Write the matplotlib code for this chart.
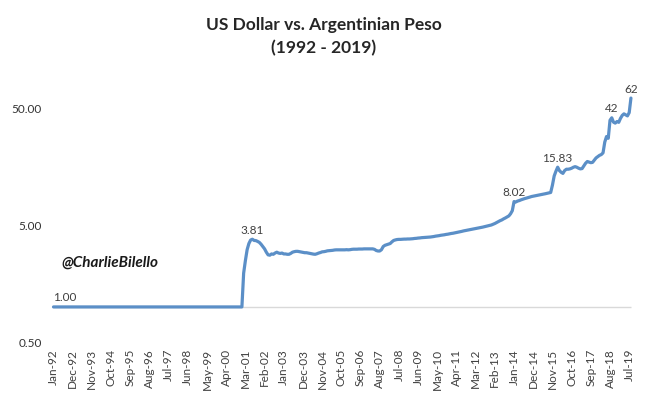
import matplotlib
matplotlib.use("Agg")
import matplotlib.pyplot as plt
import pandas as pd
import numpy as np

# ---------------- data (monthly, starting Jan-92) ----------------
start_month = "1992-01-01"
peg_values = [1.00] * 109  # Jan-92 .. Jan-01 (convertibility peg)
float_values = [
    1.95, 2.50, 3.10, 3.50, 3.75, 3.81, 3.72, 3.71, 3.65, 3.58,
    3.45, 3.30, 3.15, 2.95, 2.80, 2.78, 2.85, 2.83, 2.90, 2.95,
    2.90, 2.88, 2.90, 2.85, 2.85, 2.83, 2.83, 2.88, 2.95, 2.98,
    3.00, 3.00, 2.98, 2.96, 2.94, 2.92, 2.92, 2.90, 2.88, 2.86,
    2.84, 2.83, 2.86, 2.90, 2.93, 2.97, 2.98, 3.00, 3.03, 3.04,
    3.05, 3.06, 3.08, 3.09, 3.09, 3.09, 3.09, 3.09, 3.09, 3.10,
    3.09, 3.10, 3.12, 3.13, 3.13, 3.13, 3.14, 3.14, 3.14, 3.15,
    3.15, 3.15, 3.15, 3.15, 3.15, 3.12, 3.05, 3.02, 3.02, 3.10,
    3.30, 3.38, 3.42, 3.46, 3.50, 3.62, 3.72, 3.76, 3.79, 3.80,
    3.80, 3.81, 3.82, 3.82, 3.83, 3.83, 3.84, 3.85, 3.87, 3.88,
    3.90, 3.91, 3.93, 3.94, 3.95, 3.96, 3.97, 3.98, 4.00, 4.02,
    4.05, 4.07, 4.09, 4.12, 4.14, 4.16, 4.19, 4.21, 4.24, 4.27,
    4.29, 4.32, 4.35, 4.38, 4.41, 4.45, 4.49, 4.52, 4.55, 4.58,
    4.61, 4.64, 4.67, 4.70, 4.73, 4.76, 4.80, 4.84, 4.88, 4.92,
    4.96, 5.00, 5.05, 5.12, 5.20, 5.30, 5.40, 5.50, 5.58, 5.70,
    5.80, 5.92, 6.04, 6.30, 6.70, 8.02, 7.95, 8.10, 8.18, 8.30,
    8.40, 8.50, 8.58, 8.66, 8.76, 8.86, 8.92, 8.98, 9.05, 9.10,
    9.17, 9.23, 9.30, 9.37, 9.45, 9.52, 9.60, 11.10, 13.30, 14.60,
    15.83, 14.80, 14.30, 14.00, 14.80, 15.20, 15.20, 15.30, 15.50, 15.80,
    16.00, 15.80, 15.50, 15.30, 15.40, 16.20, 17.10, 17.70, 17.50, 17.30,
    17.40, 18.20, 19.00, 19.50, 20.00, 20.30, 21.00, 26.00, 29.00, 28.00,
    40.00, 42.00, 38.50, 37.80, 39.00, 38.40, 41.50, 44.00, 45.40, 44.50,
    43.60, 46.50, 62.00,
]
values = peg_values + float_values

# labelled points: (index in series, label text)
label_idx = [0, 114, 264, 289, 320, 331]
label_txt = ["1.00", "3.81", "8.02", "15.83", "42", "62"]

yticks = [0.5, 5, 50]
ytick_labels = ["0.50", "5.00", "50.00"]
tick_step = 11

title = "US Dollar vs. Argentinian Peso\n(1992 - 2019)"
watermark = "@CharlieBilello"

# ---------------- plot ----------------
dates = pd.date_range(start_month, periods=len(values), freq="MS")
x = np.arange(len(values))

plt.rcParams["font.family"] = ["Lato", "DejaVu Sans"]

fig = plt.figure(figsize=(6.48, 3.97), dpi=100)
ax = fig.add_axes([50 / 648, 0.1385, 586 / 648, 0.6754])

ax.set_yscale("log")
ax.set_ylim(0.5, 100)
ax.set_xlim(-2, 333.9)

# horizontal axis line at 1.00 (Excel log axis crossing)
ax.hlines(1.0, x[0], x[-1], color="#d9d9d9", lw=1.0, zorder=1)

ax.plot(x, values, color="#5b8fc7", lw=2.3, solid_joinstyle="round",
        solid_capstyle="round", zorder=3)

for i, t in zip(label_idx, label_txt):
    if i == 0:
        ax.annotate(t, (x[i], values[i]), xytext=(0, 3), textcoords="offset points",
                    ha="left", va="bottom", fontsize=8.5, color="#404040",
                    annotation_clip=False)
    else:
        ax.annotate(t, (x[i], values[i]), xytext=(0, 2.5), textcoords="offset points",
                    ha="center", va="bottom", fontsize=8.5, color="#404040",
                    annotation_clip=False)

ax.set_yticks(yticks)
ax.set_yticklabels(ytick_labels)
ax.yaxis.set_minor_locator(matplotlib.ticker.NullLocator())

tick_pos = x[::tick_step]
ax.set_xticks(tick_pos)
ax.set_xticklabels([d.strftime("%b-%y") for d in dates[::tick_step]],
                   rotation=90, fontsize=8.5, color="#404040")
ax.tick_params(axis="x", length=0, pad=5)
ax.tick_params(axis="y", length=0, pad=6, labelsize=8.5, labelcolor="#333333")

for s in ax.spines.values():
    s.set_visible(False)

fig.text(0.5, 0.908, title, ha="center", va="center", fontsize=12.5,
         fontweight="bold", color="#262626", linespacing=1.55)

fig.text(61 / 648, 1 - 263 / 397, watermark, ha="left", va="center",
         fontsize=11, fontweight="bold", style="italic", color="#1a1a1a")

fig.savefig("out.png", dpi=100, facecolor="white")
